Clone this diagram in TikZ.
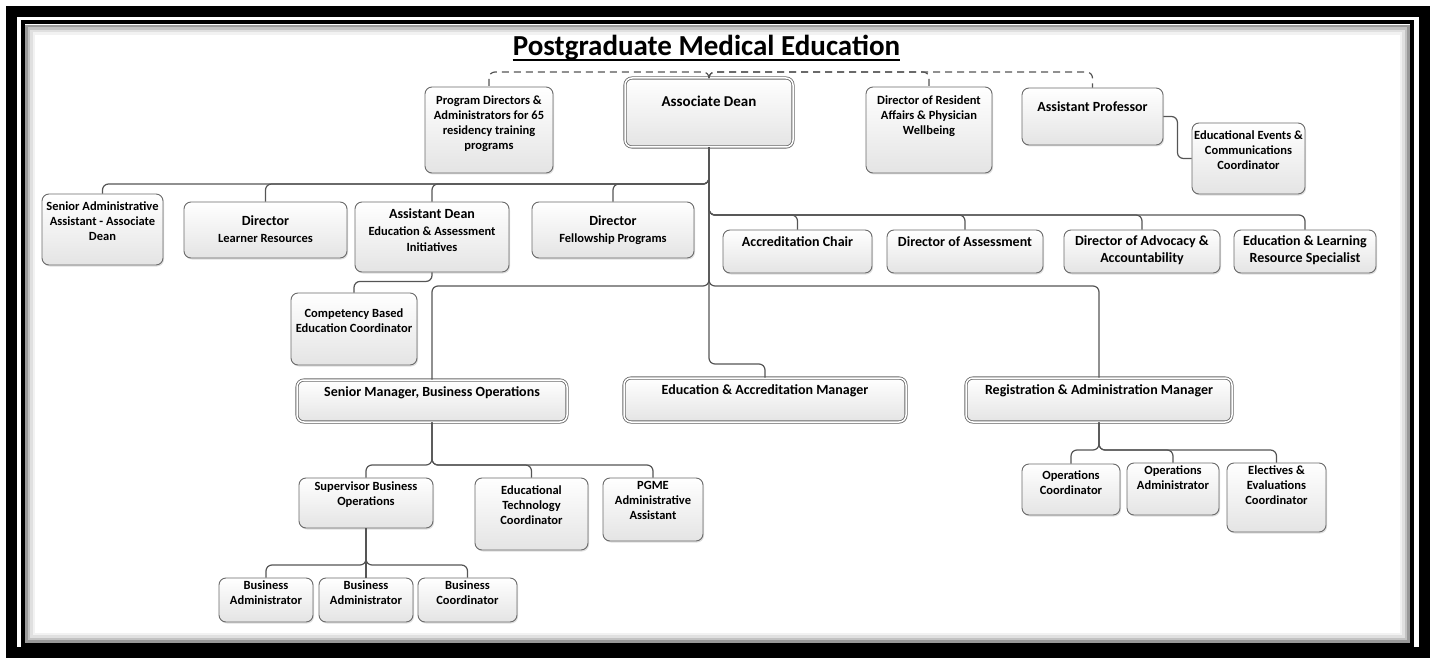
\documentclass[tikz,border=0pt]{standalone}
\usepackage{fontspec}
\setmainfont{Carlito}
\usetikzlibrary{calc,shadows}
\definecolor{edge}{HTML}{555555}
\definecolor{boxline}{HTML}{6A6A6A}
\definecolor{boxfill}{HTML}{E4E4E4}
\newcommand{\orgsmall}{\fontsize{12.5}{15}\selectfont\bfseries}
\newcommand{\orgmid}{\fontsize{14}{16.5}\selectfont\bfseries}
\newcommand{\orglarge}{\fontsize{15}{18}\selectfont\bfseries}

\begin{document}
\begin{tikzpicture}[x=1pt,y=-1pt,
  box/.style={draw=boxline, line width=0.9pt, rounded corners=7pt, top color=white, bottom color=boxfill,
    inner sep=0pt, drop shadow={shadow xshift=1pt, shadow yshift=-1.5pt, opacity=0.25}},
  mgr/.style={box, double=white, double distance=1.5pt, line width=0.8pt},
  sz/.style 2 args={minimum width=#1pt, minimum height=#2pt},
  lbl/.style={anchor=north, align=center, inner sep=0pt, font=\orgsmall},
  conn/.style={draw=edge, line width=1.2pt, rounded corners=6pt},
  dconn/.style={conn, dash pattern=on 7pt off 5pt}]
  \useasboundingbox (0,0) rectangle (1433,658);

  % Frame with inner shadow
  \draw[line width=11pt] (11.5,11.5) rectangle (1424.5,652.5);
  \draw[line width=4pt] (23,22.5) rectangle (1412,645);
  \draw[line width=2.5pt, black!40] (26.5,26) rectangle (1408.5,641.5);
  \draw[line width=2.5pt, black!24] (29,28.5) rectangle (1406,639);
  \draw[line width=2.5pt, black!12] (31.5,31) rectangle (1403.5,636.5);
  \draw[line width=2.5pt, black!5] (34,33.5) rectangle (1401,634);

  % Title
  \node[inner sep=0pt, font=\fontsize{29}{34}\selectfont\bfseries, anchor=base] (ttl) at (706.5,56) {Postgraduate Medical Education};
  \draw[line width=1.6pt] ($(ttl.base west)+(0,4)$) -- ($(ttl.base east)+(0,4)$);

  % Bus lines
  \coordinate (dbus) at (0,72);
  \coordinate (lbus) at (0,184);
  \coordinate (rbus) at (0,215);
  \coordinate (mbus) at (0,286);
  \coordinate (ebus) at (0,364);
  \coordinate (obus) at (0,450);
  \coordinate (sbus) at (0,465);
  \coordinate (bbus) at (0,565);

  % Top row
  \node[box, sz={128}{86}] (pd) at (489,130) {};
  \node[lbl, yshift=-9pt] (pdt) at (pd.north) {Program Directors \&\\Administrators for 65\\residency training\\programs};
  \node[mgr, sz={168}{69}] (ad) at (709,112.5) {};
  \node[lbl, font=\orglarge, yshift=-18pt] (adt) at (ad.north) {Associate Dean};
  \node[box, sz={126}{86}] (dra) at (929,130) {};
  \node[lbl, yshift=-9pt] (drat) at (dra.north) {Director of Resident\\Affairs \& Physician\\Wellbeing};
  \node[box, sz={141}{57}] (ap) at (1092.5,116.5) {};
  \node[lbl, font=\orgmid, yshift=-14pt] (apt) at (ap.north) {Assistant Professor};
  \node[box, sz={113}{71}] (eee) at (1248.5,158.5) {};
  \node[lbl, yshift=-8pt] (eeet) at (eee.north) {Educational Events \&\\Communications\\Coordinator};

  % Second row, left
  \node[box, sz={121}{71}] (sad) at (102.5,229.5) {};
  \node[lbl, yshift=-8pt] (sadt) at (sad.north) {Senior Administrative\\Assistant - Associate\\Dean};
  \node[box, sz={163}{56}] (dlr) at (265.5,230) {};
  \node[lbl, font=\orgmid, yshift=-14pt] (dlrt) at (dlr.north) {Director\\{\orgsmall Learner Resources}};
  \node[box, sz={154}{70}] (adn) at (432,237) {};
  \node[lbl, font=\orgmid, yshift=-7pt] (adnt) at (adn.north) {Assistant Dean\\{\orgsmall Education \& Assessment}\\{\orgsmall Initiatives}};
  \node[box, sz={162}{56}] (dfp) at (613,230) {};
  \node[lbl, font=\orgmid, yshift=-14pt] (dfpt) at (dfp.north) {Director\\{\orgsmall Fellowship Programs}};
  \node[box, sz={126}{72}] (cbe) at (354,329) {};
  \node[lbl, yshift=-16pt] (cbet) at (cbe.north) {Competency Based\\Education Coordinator};

  % Second row, right
  \node[box, sz={149}{43}] (acc) at (797.5,251.5) {};
  \node[lbl, font=\orgmid, yshift=-7pt] (acct) at (acc.north) {Accreditation Chair};
  \node[box, sz={156}{43}] (das) at (965,251.5) {};
  \node[lbl, font=\orgmid, yshift=-7pt] (dast) at (das.north) {Director of Assessment};
  \node[box, sz={156}{43}] (daa) at (1142,251.5) {};
  \node[lbl, font=\orgmid, yshift=-6pt] (daat) at (daa.north) {Director of Advocacy \&\\Accountability};
  \node[box, sz={142}{43}] (elr) at (1305,251.5) {};
  \node[lbl, font=\orgmid, yshift=-6pt] (elrt) at (elr.north) {Education \& Learning\\Resource Specialist};

  % Managers
  \node[mgr, sz={270}{42}] (smb) at (432,401) {};
  \node[lbl, font=\orgmid, yshift=-7pt] (smbt) at (smb.north) {Senior Manager, Business Operations};
  \node[mgr, sz={282}{44}] (eam) at (765,400) {};
  \node[lbl, font=\orgmid, yshift=-7pt] (eamt) at (eam.north) {Education \& Accreditation Manager};
  \node[mgr, sz={266}{44}] (ram) at (1099,400) {};
  \node[lbl, font=\orgmid, yshift=-7pt] (ramt) at (ram.north) {Registration \& Administration Manager};

  % Business operations team
  \node[box, sz={134}{50}] (sbo) at (366,503) {};
  \node[lbl, yshift=-4pt] (sbot) at (sbo.north) {Supervisor Business\\Operations};
  \node[box, sz={113}{72}] (etc) at (531.5,514) {};
  \node[lbl, yshift=-8pt] (etct) at (etc.north) {Educational\\Technology\\Coordinator};
  \node[box, sz={100}{63}] (pgme) at (653,509.5) {};
  \node[lbl, yshift=-4pt] (pgmet) at (pgme.north) {PGME\\Administrative\\Assistant};
  \node[box, sz={94}{44}] (ba1) at (266,600) {};
  \node[lbl, yshift=-3pt] (ba1t) at (ba1.north) {Business\\Administrator};
  \node[box, sz={94}{44}] (ba2) at (366,600) {};
  \node[lbl, yshift=-3pt] (ba2t) at (ba2.north) {Business\\Administrator};
  \node[box, sz={99}{44}] (bc) at (467.5,600) {};
  \node[lbl, yshift=-3pt] (bct) at (bc.north) {Business\\Coordinator};

  % Registration team
  \node[box, sz={98}{51}] (oc) at (1071,489.5) {};
  \node[lbl, yshift=-7pt] (oct) at (oc.north) {Operations\\Coordinator};
  \node[box, sz={92}{52}] (oa) at (1173,489) {};
  \node[lbl, yshift=-3pt] (oat) at (oa.north) {Operations\\Administrator};
  \node[box, sz={99}{69}] (eec) at (1276.5,497.5) {};
  \node[lbl, yshift=-3pt] (eect) at (eec.north) {Electives \&\\Evaluations\\Coordinator};

  % Connectors
  \foreach \n in {pd,dra,ap}
    \draw[dconn] (ad.north) |- (dbus -| \n.north) -- (\n.north);
  \foreach \n in {sad,dlr,adn,dfp}
    \draw[conn] (ad.south) |- (lbus -| \n.north) -- (\n.north);
  \foreach \n in {acc,das,daa,elr}
    \draw[conn] (ad.south) |- (rbus -| \n.north) -- (\n.north);
  \foreach \n in {smb,ram}
    \draw[conn] (ad.south) |- (mbus -| \n.north) -- (\n.north);
  \draw[conn] (ad.south) |- (ebus -| eam.north) -- (eam.north);
  \draw[conn] (adn.south) -- ++(0,9) -| (cbe.north);
  \draw[conn] (ap.east) -- ++(14,0) |- (eee.west);
  \foreach \n in {sbo,etc,pgme}
    \draw[conn] (smb.south) |- (sbus -| \n.north) -- (\n.north);
  \foreach \n in {ba1,bc}
    \draw[conn] (sbo.south) |- (bbus -| \n.north) -- (\n.north);
  \draw[conn] (sbo.south) -- (ba2.north);
  \foreach \n in {oc,oa,eec}
    \draw[conn] (ram.south) |- (obus -| \n.north) -- (\n.north);
\end{tikzpicture}
\end{document}
